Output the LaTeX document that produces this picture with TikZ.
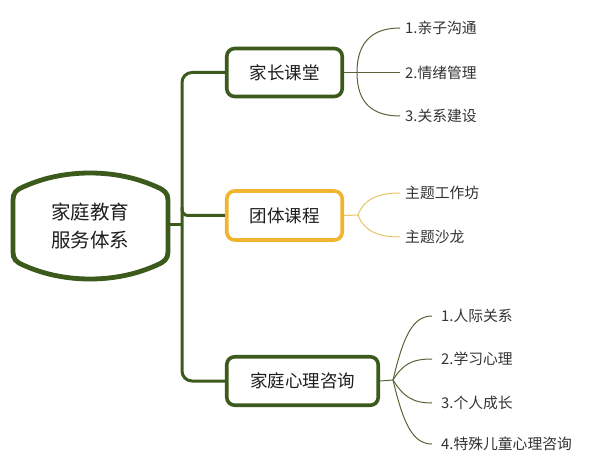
\documentclass[tikz,border=0pt]{standalone}
\usepackage{fontspec}
\newfontfamily\cjk{Noto Sans CJK SC}
\definecolor{dgreen}{HTML}{3C5A1B}
\definecolor{lgreen}{HTML}{56663A}
\definecolor{gold}{HTML}{F0B42E}
\definecolor{lgold}{HTML}{EBC46A}
\definecolor{txt}{HTML}{1E1E1E}
\definecolor{ctxt}{HTML}{333333}
\tikzset{
  trunk/.style={draw=dgreen, line width=3pt},
  box/.style={draw=dgreen, line width=3.6pt, rounded corners=8pt, fill=white,
    font=\cjk\fontsize{17.5}{20}\selectfont, text=txt},
  goldbox/.style={box, draw=gold},
  leaf/.style={anchor=west, inner sep=5pt, font=\cjk\fontsize{14.8}{18}\selectfont, text=ctxt},
  leafwide/.style={leaf, inner xsep=9pt},
  twig/.style={draw=lgreen, line width=1pt},
  goldtwig/.style={draw=lgold, line width=1pt},
}
\begin{document}
\begin{tikzpicture}[x=1pt,y=-1pt]
\useasboundingbox[fill=white] (0,0) rectangle (600,473);
% root
\draw[dgreen, line width=4.8pt]
  (13,200) -- (13,252) .. controls (13,259) and (16,262) .. (23,265)
  .. controls (45,275) and (68,279) .. (90,279)
  .. controls (112,279) and (135,275) .. (157,265)
  .. controls (164,262) and (168,259) .. (168,252) -- (168,200)
  .. controls (168,193) and (164,190) .. (157,187)
  .. controls (135,177) and (112,173) .. (90,173)
  .. controls (68,173) and (45,177) .. (23,187)
  .. controls (16,190) and (13,193) .. (13,200) -- cycle;
\node[align=center, font=\cjk\fontsize{19.5}{28}\selectfont, text=txt] (root) at (90,226) {家庭教育\\服务体系};
\coordinate (rootE) at (168,225);
\coordinate (tx) at (182,0);
% boxes
\node[box, minimum width=115.5pt, minimum height=48pt] (b1) at (284.5,72.5) {家长课堂};
\node[goldbox, minimum width=115.5pt, minimum height=49pt] (b2) at (284.5,215.5) {团体课程};
\node[box, minimum width=151.5pt, minimum height=48.5pt] (b3) at (302.5,381) {家庭心理咨询};
% trunk
\draw[trunk, rounded corners=10pt] (b1.west) -- (b1.west -| tx) -- (b3.west -| tx) -- (b3.west);
\draw[trunk] (rootE) -- (rootE -| tx);
\draw[trunk, rounded corners=6pt] ([yshift=8pt]b2.west -| tx) -- (b2.west -| tx) -- (b2.west);
% group 1
\coordinate (j1) at (357,72.5);
\node[leaf] (c11) at (400,28) {1.亲子沟通};
\node[leaf] (c12) at (400,72.5) {2.情绪管理};
\node[leaf] (c13) at (400,116) {3.关系建设};
\draw[twig] (b1.east) -- (j1);
\draw[twig] (j1) .. controls +(0,-32) and +(-26,0) .. (c11.west);
\draw[twig] (j1) -- (c12.west);
\draw[twig] (j1) .. controls +(0,32) and +(-26,0) .. (c13.west);
% group 2
\coordinate (j2) at (358,215);
\node[leaf] (c21) at (400,193) {主题工作坊};
\node[leaf] (c22) at (400,237) {主题沙龙};
\draw[goldtwig] (b2.east) -- (j2);
\draw[goldtwig] (j2) .. controls +(6,-16) and +(-22,0) .. (c21.west);
\draw[goldtwig] (j2) .. controls +(6,16) and +(-22,0) .. (c22.west);
% group 3
\coordinate (j3) at (393,380);
\node[leafwide] (c31) at (432,316) {1.人际关系};
\node[leafwide] (c32) at (432,359) {2.学习心理};
\node[leafwide] (c33) at (432,403) {3.个人成长};
\node[leafwide] (c34) at (432,444) {4.特殊儿童心理咨询};
\draw[twig] (b3.east) -- (j3);
\draw[twig] (j3) .. controls +(10,-42) and +(-20,0) .. (c31.west);
\draw[twig] (j3) .. controls +(10,-16) and +(-20,0) .. (c32.west);
\draw[twig] (j3) .. controls +(10,16) and +(-20,0) .. (c33.west);
\draw[twig] (j3) .. controls +(10,42) and +(-20,0) .. (c34.west);
\end{tikzpicture}
\end{document}
